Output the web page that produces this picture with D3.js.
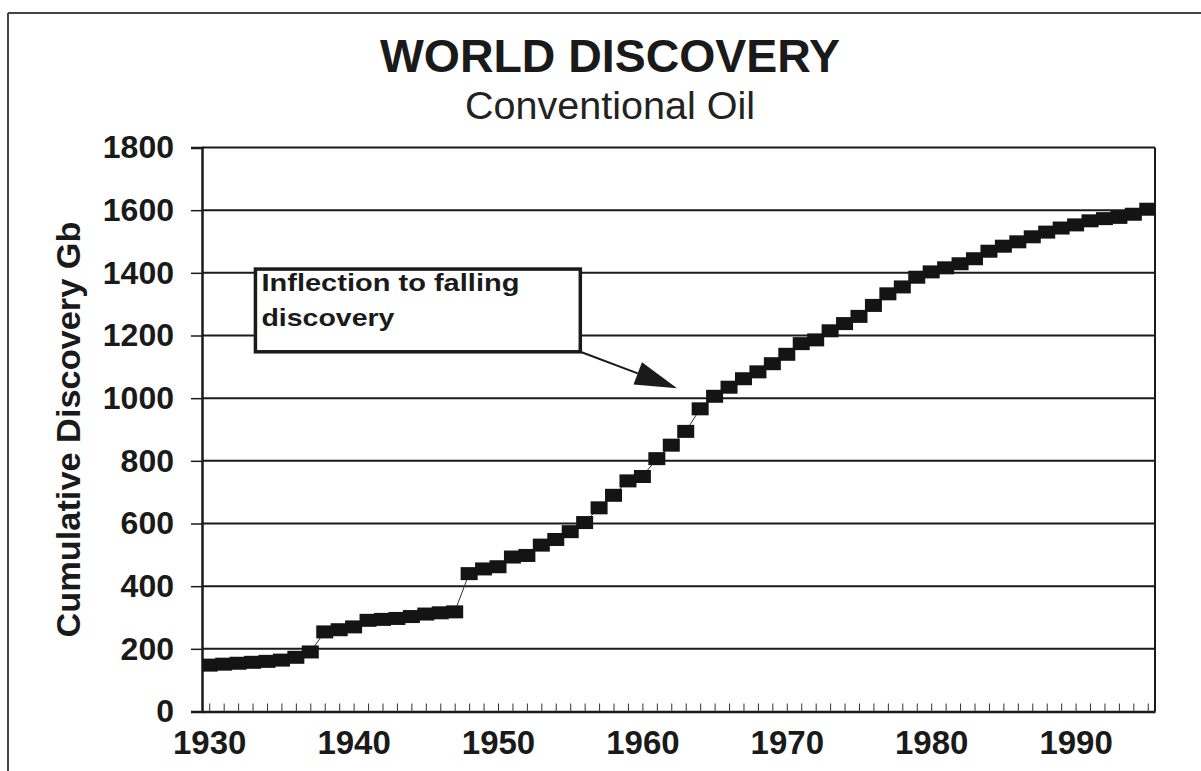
<!DOCTYPE html>
<html>
<head>
<meta charset="utf-8">
<script src="https://cdn.jsdelivr.net/npm/d3@7"></script>
<style>
  html, body { margin: 0; padding: 0; background: #fff; }
  svg { display: block; font-family: "Liberation Sans", Arial, Helvetica, sans-serif; }
</style>
</head>
<body>
<svg id="chart" width="1201" height="771"></svg>
<script>
// ---- data ----
const years = [1930,1931,1932,1933,1934,1935,1936,1937,1938,1939,
               1940,1941,1942,1943,1944,1945,1946,1947,1948,1949,
               1950,1951,1952,1953,1954,1955,1956,1957,1958,1959,
               1960,1961,1962,1963,1964,1965,1966,1967,1968,1969,
               1970,1971,1972,1973,1974,1975,1976,1977,1978,1979,
               1980,1981,1982,1983,1984,1985,1986,1987,1988,1989,
               1990,1991,1992,1993,1994,1995];
const cumulativeDiscovery = [148,151,154,157,160,164,173,190,254,261,
                             270,291,294,297,303,311,315,318,440,455,
                             462,493,498,531,549,574,603,650,690,736,
                             750,807,850,894,966,1006,1035,1062,1084,1110,
                             1140,1174,1186,1215,1238,1261,1296,1333,1355,1386,
                             1403,1416,1429,1445,1469,1485,1499,1515,1530,1543,
                             1553,1566,1573,1577,1587,1603];
const xTickLabels = [1930,1940,1950,1960,1970,1980,1990];
const yTickValues = [0,200,400,600,800,1000,1200,1400,1600,1800];
const titleText = "WORLD DISCOVERY";
const subtitleText = "Conventional Oil";
const yAxisTitle = "Cumulative Discovery Gb";
const annotationLines = ["Inflection to falling", "discovery"];
// annotation anchor points in data units
const annotationBox = {x0: 1933.2, x1: 1955.7, y0: 1412, y1: 1148};
const arrowTip = {year: 1962.4, value: 1032};

// ---- layout ----
const svg = d3.select("#chart");
const plot = {left: 202, right: 1155, top: 147.5, bottom: 711.5};

const x = d3.scaleLinear().domain([1929.5, 1995.5]).range([plot.left, plot.right]);
const y = d3.scaleLinear().domain([0, 1800]).range([plot.bottom, plot.top]);

// outer frame (top and left edges visible)
svg.append("line").attr("x1", 8).attr("x2", 1201).attr("y1", 13).attr("y2", 13)
  .attr("stroke", "#444").attr("stroke-width", 2);
svg.append("line").attr("x1", 8).attr("x2", 8).attr("y1", 13).attr("y2", 771)
  .attr("stroke", "#444").attr("stroke-width", 2);

// titles
svg.append("text").attr("x", 610).attr("y", 72).attr("text-anchor", "middle")
  .attr("font-size", 46).attr("font-weight", "bold").attr("fill", "#1a1a1a")
  .attr("textLength", 460).attr("lengthAdjust", "spacingAndGlyphs")
  .text(titleText);
svg.append("text").attr("x", 610).attr("y", 119).attr("text-anchor", "middle")
  .attr("font-size", 38).attr("fill", "#222")
  .attr("textLength", 290).attr("lengthAdjust", "spacingAndGlyphs")
  .text(subtitleText);

// gridlines
svg.append("g").selectAll("line").data(yTickValues.filter(v => v > 0)).join("line")
  .attr("x1", plot.left).attr("x2", plot.right)
  .attr("y1", d => y(d)).attr("y2", d => y(d))
  .attr("stroke", "#1a1a1a").attr("stroke-width", 2);

// right border
svg.append("line").attr("x1", plot.right).attr("x2", plot.right)
  .attr("y1", plot.top).attr("y2", plot.bottom)
  .attr("stroke", "#1a1a1a").attr("stroke-width", 2);

// y axis
const yAxis = d3.axisLeft(y).tickValues(yTickValues).tickSize(11).tickPadding(17)
  .tickFormat(d3.format("d"));
const gy = svg.append("g").attr("transform", `translate(${plot.left},0)`).call(yAxis);
gy.select(".domain").attr("stroke", "#1a1a1a").attr("stroke-width", 2.5);
gy.selectAll(".tick line").attr("stroke", "#1a1a1a").attr("stroke-width", 1.5);
gy.selectAll(".tick text").attr("font-size", 32).attr("font-weight", "bold")
  .attr("fill", "#1a1a1a").attr("font-family", "Liberation Sans, Arial, sans-serif");

// x axis: inward ticks at every year, labels each decade
const xAxis = d3.axisBottom(x).tickValues(years).tickSize(-8).tickSizeOuter(0)
  .tickFormat(d => xTickLabels.includes(d) ? String(d) : "");
const gx = svg.append("g").attr("transform", `translate(0,${plot.bottom})`).call(xAxis);
gx.select(".domain").attr("stroke", "#1a1a1a").attr("stroke-width", 2.5);
gx.selectAll(".tick line").attr("stroke", "#333").attr("stroke-width", 1);
gx.selectAll(".tick text").attr("font-size", 33).attr("font-weight", "bold")
  .attr("fill", "#1a1a1a").attr("dy", 0).attr("y", 42)
  .attr("font-family", "Liberation Sans, Arial, sans-serif");

// y axis title
svg.append("text")
  .attr("transform", `translate(80,${(plot.top + plot.bottom) / 2}) rotate(-90)`)
  .attr("text-anchor", "middle").attr("font-size", 34).attr("font-weight", "bold")
  .attr("fill", "#1a1a1a")
  .attr("textLength", 416).attr("lengthAdjust", "spacingAndGlyphs")
  .text(yAxisTitle);

// clip
svg.append("defs").append("clipPath").attr("id", "plotclip").append("rect")
  .attr("x", plot.left).attr("y", plot.top - 10)
  .attr("width", plot.right - plot.left).attr("height", plot.bottom - plot.top + 10);

const series = years.map((yr, i) => ({year: yr, value: cumulativeDiscovery[i]}));
const gData = svg.append("g").attr("clip-path", "url(#plotclip)");
gData.append("path").datum(series)
  .attr("d", d3.line().x(d => x(d.year)).y(d => y(d.value)))
  .attr("fill", "none").attr("stroke", "#333").attr("stroke-width", 1);
const mw = 17, mh = 13;
gData.selectAll("rect.m").data(series).join("rect").attr("class", "m")
  .attr("x", d => x(d.year) - mw / 2).attr("y", d => y(d.value) - mh / 2)
  .attr("width", mw).attr("height", mh).attr("fill", "#141414");

// annotation arrow
const bx0 = x(annotationBox.x0), bx1 = x(annotationBox.x1);
const by0 = y(annotationBox.y0), by1 = y(annotationBox.y1);
const tx = x(arrowTip.year), ty = y(arrowTip.value);
const ang = Math.atan2(ty - by1, tx - bx1);
const headLen = 42, headHalf = 12;
const baseX = tx - headLen * Math.cos(ang), baseY = ty - headLen * Math.sin(ang);
svg.append("line").attr("x1", bx1).attr("y1", by1).attr("x2", baseX).attr("y2", baseY)
  .attr("stroke", "#1a1a1a").attr("stroke-width", 2);
svg.append("path")
  .attr("d", `M${tx},${ty} L${baseX + headHalf * Math.sin(ang)},${baseY - headHalf * Math.cos(ang)} L${baseX - headHalf * Math.sin(ang)},${baseY + headHalf * Math.cos(ang)} Z`)
  .attr("fill", "#1a1a1a");

// annotation box
svg.append("rect").attr("x", bx0).attr("y", by0).attr("width", bx1 - bx0).attr("height", by1 - by0)
  .attr("fill", "#fff").attr("stroke", "#1a1a1a").attr("stroke-width", 3.5);
const annWidths = [258, 133];
svg.append("g").selectAll("text").data(annotationLines).join("text")
  .attr("x", bx0 + 6).attr("y", (d, i) => by0 + 22 + i * 35)
  .attr("font-size", 24).attr("font-weight", "bold").attr("fill", "#1a1a1a")
  .attr("textLength", (d, i) => annWidths[i]).attr("lengthAdjust", "spacingAndGlyphs")
  .text(d => d);
</script>
</body>
</html>
